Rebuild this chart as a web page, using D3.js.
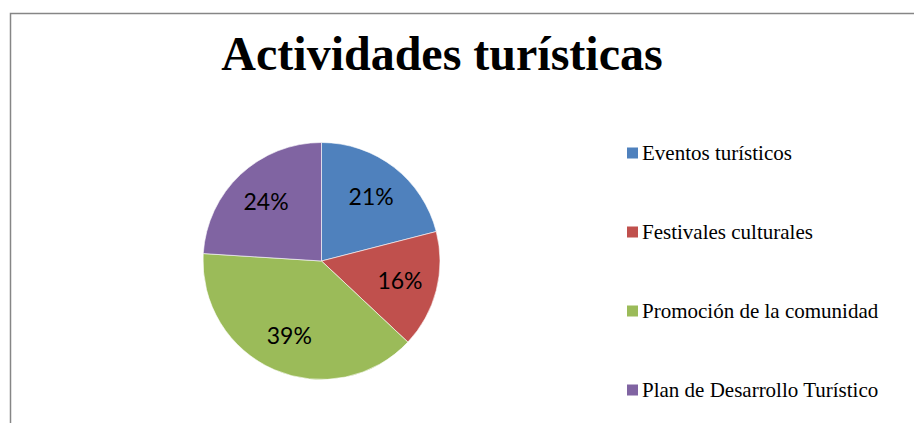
<!DOCTYPE html>
<html>
<head>
<meta charset="utf-8">
<script src="https://d3js.org/d3.v7.min.js"></script>
<style>
body { margin:0; background:#fff; }
</style>
</head>
<body>
<svg id="svg" width="914" height="423"></svg>
<script>
var categories = ["Eventos turísticos", "Festivales culturales", "Promoción de la comunidad", "Plan de Desarrollo Turístico"];
var values = [21, 16, 39, 24];
var colors = ["#4f81bd", "#c0504d", "#9bbb59", "#8064a2"];
var title = "Actividades turísticas";

var svg = d3.select("#svg");

// chart frame (runs off right/bottom edge)
svg.append("rect")
.attr('x',10.5)
.attr('y',13.5)
.attr('width',1000)
.attr('height',600)
.attr('fill','white')
.attr('stroke','#868686')
.attr('stroke-width',1.5);

svg.append("text")
.text(title)
.attr('x',442)
.attr('y',70)
.attr('text-anchor','middle')
.style('font-family','"Liberation Serif", "Times New Roman", serif')
.style('font-weight','bold')
.style('font-size','48px');

// PIE
var cx = 321.5, cy = 261, r = 118.5;
var color = d3.scaleOrdinal().domain(categories).range(colors);

var pie = d3.pie().sort(null).value(function(d){ return d.value; });
var data = categories.map(function(c, i){ return {name: c, value: values[i]}; });
var arcs = pie(data);

var arc = d3.arc().innerRadius(0).outerRadius(r);
var labelArc = d3.arc().innerRadius(81).outerRadius(81);

var g = svg.append("g")
.attr("transform", "translate(" + cx + "," + cy + ")");

g.selectAll("path")
.data(arcs)
.enter().append("path")
.attr('d', arc)
.attr('fill', function(d){ return color(d.data.name); })
.attr('stroke','white')
.attr('stroke-width',0.6);

var total = d3.sum(values);
g.selectAll("text")
.data(arcs)
.enter().append("text")
.attr('transform', function(d){ return "translate(" + labelArc.centroid(d) + ")"; })
.attr('text-anchor','middle')
.attr('dy','0.36em')
.style('font-family','Lato, "Open Sans", sans-serif')
.style('font-size','23px')
.text(function(d){ return Math.round(d.data.value / total * 100) + "%"; });

// LEGEND
var legend = svg.append("g")
.attr("transform", "translate(627,0)");

var y = d3.scalePoint().domain(categories).range([159.5, 396.5]);

var item = legend.selectAll("g")
.data(categories)
.enter().append("g")
.attr('transform', function(d){ return "translate(0," + y(d) + ")"; });

item.append("rect")
.attr('x',0)
.attr('y',-12)
.attr('width',11)
.attr('height',11)
.attr('fill', function(d){ return color(d); });

item.append("text")
.attr('x',15)
.attr('y',0)
.style('font-family','"Liberation Serif", "Times New Roman", serif')
.style('font-size','21px')
.text(function(d){ return d; });
</script>
</body>
</html>
